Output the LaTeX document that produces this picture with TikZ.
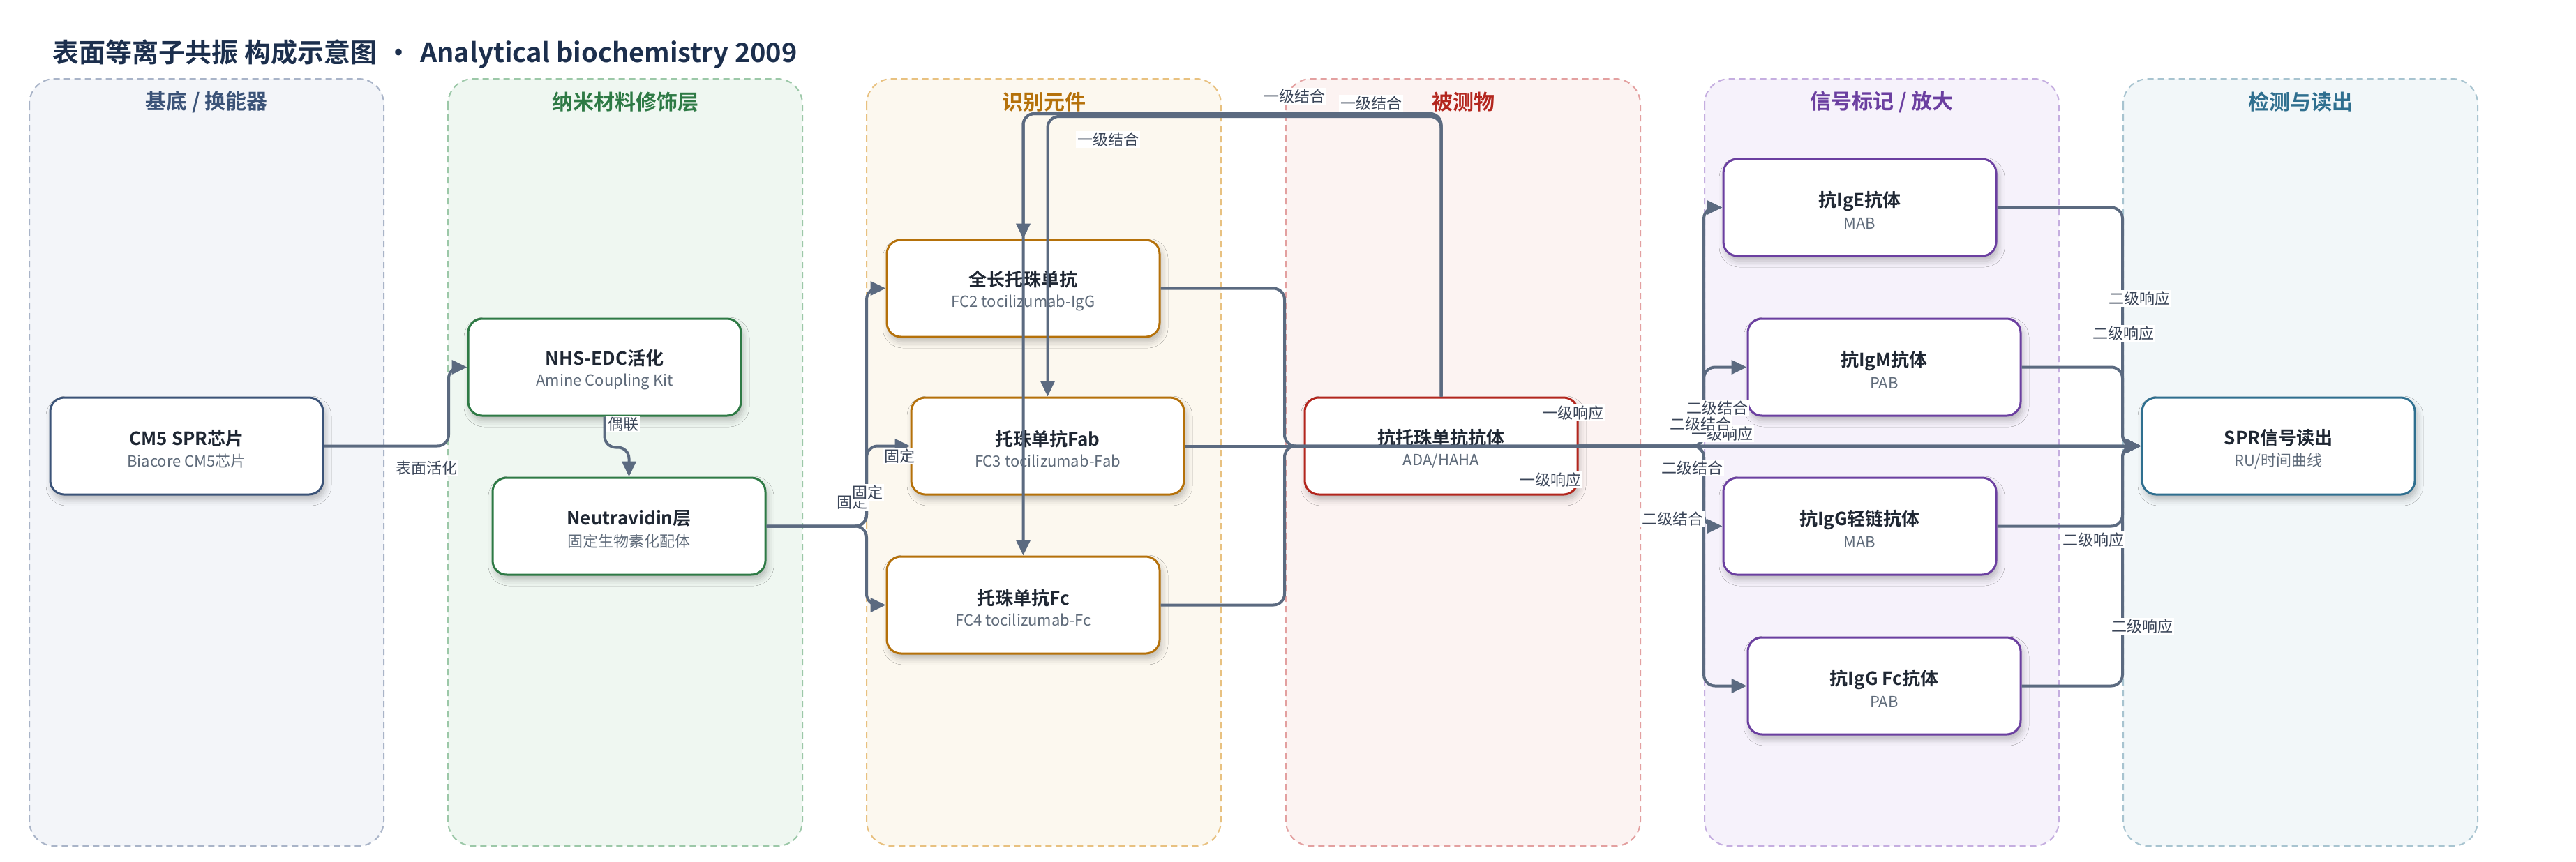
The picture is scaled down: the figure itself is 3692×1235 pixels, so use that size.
\documentclass[tikz,border=0pt]{standalone}
\usepackage{fontspec}
\setmainfont{Noto Sans CJK SC}[BoldFont={Noto Sans CJK SC Bold}]
\usetikzlibrary{arrows.meta,shadows.blur}

\definecolor{titlec}{HTML}{1C2F4D}
\definecolor{inkc}{HTML}{1F2733}
\definecolor{subc}{HTML}{5F6B7A}
\definecolor{edgec}{HTML}{5B6A80}
\definecolor{lblc}{HTML}{3A4558}
% lane colours: text / dash / fill
\definecolor{baset}{HTML}{3B5378}\definecolor{based}{HTML}{A9B4C8}\definecolor{basef}{HTML}{F3F5F9}
\definecolor{nanot}{HTML}{2E7A45}\definecolor{nanod}{HTML}{9CC8A8}\definecolor{nanof}{HTML}{EFF7F1}
\definecolor{recot}{HTML}{B5710A}\definecolor{recod}{HTML}{E8C180}\definecolor{recof}{HTML}{FCF8EF}
\definecolor{anat}{HTML}{B3261E}\definecolor{anad}{HTML}{E3A0A0}\definecolor{anaf}{HTML}{FCF3F2}
\definecolor{sigt}{HTML}{6B3FA0}\definecolor{sigd}{HTML}{C5AEE0}\definecolor{sigf}{HTML}{F6F2FB}
\definecolor{readt}{HTML}{2F6F8F}\definecolor{readd}{HTML}{A8C4D0}\definecolor{readf}{HTML}{F2F7F9}

\tikzset{
  lanebox/.style 2 args={draw=#1, fill=#2, dash pattern=on 9pt off 6pt, line width=2pt, rounded corners=36pt},
  lanetitle/.style={font=\fontsize{30}{34}\selectfont\bfseries, text=#1},
  part/.style={draw=#1, line width=3pt, fill=white, rounded corners=20pt,
    minimum width=391pt, minimum height=139pt, align=center, inner sep=0pt,
    blur shadow={shadow xshift=3pt, shadow yshift=-7pt, shadow blur radius=9pt, shadow opacity=25}},
  link/.style={draw=edgec, line width=4pt, rounded corners=16pt, -{Triangle[length=22pt,width=20pt]}},
  lbl/.style={fill=white, inner sep=2pt, text=lblc, font=\fontsize{22}{24}\selectfont},
}

\newcommand{\twoline}[2]{\rule{0pt}{30pt}{\fontsize{26}{30}\selectfont\bfseries\color{inkc}#1}\\[9pt]{\fontsize{22}{26}\selectfont\color{subc}#2}}

\begin{document}
\begin{tikzpicture}[x=1pt, y=-1pt]
% canvas
\fill[white] (0,0) rectangle (3692,1235);
\useasboundingbox (0,0) rectangle (3692,1235);

% Title
\node[anchor=west, font=\fontsize{38}{42}\selectfont\bfseries, text=titlec] (title) at (72,77)
  {表面等离子共振 构成示意图\hspace{12pt}·\hspace{12pt}Analytical biochemistry 2009};

% Lanes
\draw[lanebox={based}{basef}] (42,113) rectangle (550,1213);
\draw[lanebox={nanod}{nanof}] (642,113) rectangle (1150,1213);
\draw[lanebox={recod}{recof}] (1242,113) rectangle (1750,1213);
\draw[lanebox={anad}{anaf}] (1843,113) rectangle (2351,1213);
\draw[lanebox={sigd}{sigf}] (2443,113) rectangle (2951,1213);
\draw[lanebox={readd}{readf}] (3043,113) rectangle (3551,1213);

\node[lanetitle=baset] (t1) at (296,146) {基底 / 换能器};
\node[lanetitle=nanot] (t2) at (896,146) {纳米材料修饰层};
\node[lanetitle=recot] (t3) at (1496,146) {识别元件};
\node[lanetitle=anat] (t4) at (2097,146) {被测物};
\node[lanetitle=sigt] (t5) at (2697,146) {信号标记 / 放大};
\node[lanetitle=readt] (t6) at (3297,146) {检测与读出};

% Substrate and surface layers
\node[part=baset] (cm5) at (267.5,639.5) {\twoline{CM5 SPR芯片}{Biacore CM5芯片}};
\node[part=nanot] (nhs) at (866.5,526.5) {\twoline{NHS-EDC活化}{Amine Coupling Kit}};
\node[part=nanot] (neu) at (901.5,754.5) {\twoline{Neutravidin层}{固定生物素化配体}};

% Recognition elements
\node[part=recot] (qc) at (1466.5,413.5) {\twoline{全长托珠单抗}{FC2 tocilizumab-IgG}};
\node[part=recot] (fab) at (1501.5,639.5) {\twoline{托珠单抗Fab}{FC3 tocilizumab-Fab}};
\node[part=recot] (fc) at (1466.5,867.5) {\twoline{托珠单抗Fc}{FC4 tocilizumab-Fc}};

% Analyte
\node[part=anat] (ada) at (2065.5,639.5) {\twoline{抗托珠单抗抗体}{ADA/HAHA}};

% Secondary antibodies
\node[part=sigt] (ige) at (2665.5,297.5) {\twoline{抗IgE抗体}{MAB}};
\node[part=sigt] (igm) at (2700.5,526.5) {\twoline{抗IgM抗体}{PAB}};
\node[part=sigt] (igl) at (2665.5,754.5) {\twoline{抗IgG轻链抗体}{MAB}};
\node[part=sigt] (igf) at (2700.5,983.5) {\twoline{抗IgG Fc抗体}{PAB}};

% Readout
\node[part=readt] (spr) at (3265.5,639.5) {\twoline{SPR信号读出}{RU/时间曲线}};

% bend points
\coordinate (topA) at (0,163);
\coordinate (topB) at (0,167);
\coordinate (busA) at (1841,639.5);
\coordinate (busB) at (2442,639.5);
\coordinate (busC) at (3042,639.5);
\coordinate (busD) at (1242,754.5);
\coordinate (busE) at (643,639.5);

% Connectors
\draw[link] (cm5.east) -- (busE) |- (nhs.west);
\draw[link] (nhs.south) -- ++(0,44) -| (neu.north);
\draw[link] (neu.east) -- (busD) |- (qc.west);
\draw[link] (neu.east) -- (busD) |- (fab.west);
\draw[link] (neu.east) -- (busD) |- (fc.west);

\draw[link] (ada.north) |- (qc.north |- topA) -- (qc.north);
\draw[link] (ada.north) |- (fab.north |- topB) -- (fab.north);
\draw[link] (ada.north) |- (fc.north |- topA) -- (fc.north);

\draw[link] (qc.east) -| (busA) -- (spr.west);
\draw[link] (fab.east) -- (spr.west);
\draw[link] (fc.east) -| (busA) -- (spr.west);

\draw[link] (ada.east) -- (busB) |- (ige.west);
\draw[link] (ada.east) -- (busB) |- (igm.west);
\draw[link] (ada.east) -- (busB) |- (igl.west);
\draw[link] (ada.east) -- (busB) |- (igf.west);

\draw[link] (ige.east) -| (busC) -- (spr.west);
\draw[link] (igm.east) -| (busC) -- (spr.west);
\draw[link] (igl.east) -| (busC) -- (spr.west);
\draw[link] (igf.east) -| (busC) -- (spr.west);

% Labels
\node[lbl] (l1) at (611,671) {表面活化};
\node[lbl] (l2) at (893,608) {偶联};
\node[lbl] (l3) at (1289,654) {固定};
\node[lbl] (l4) at (1221,720) {固定};
\node[lbl] (l5) at (1243,706) {固定};
\node[lbl] (l6) at (1855,138) {一级结合};
\node[lbl] (l7) at (1965,148) {一级结合};
\node[lbl] (l8) at (1588,200) {一级结合};
\node[lbl] (l9) at (2254,592) {一级响应};
\node[lbl] (l10) at (2222,688) {一级响应};
\node[lbl] (l11) at (2468,622) {一级响应};
\node[lbl] (l12) at (2461,585) {二级结合};
\node[lbl] (l13) at (2437,608) {二级结合};
\node[lbl] (l14) at (2425,671) {二级结合};
\node[lbl] (l15) at (2397,744) {二级结合};
\node[lbl] (l16) at (3066,428) {二级响应};
\node[lbl] (l17) at (3043,478) {二级响应};
\node[lbl] (l18) at (3000,774) {二级响应};
\node[lbl] (l19) at (3070,898) {二级响应};
\end{tikzpicture}
\end{document}
